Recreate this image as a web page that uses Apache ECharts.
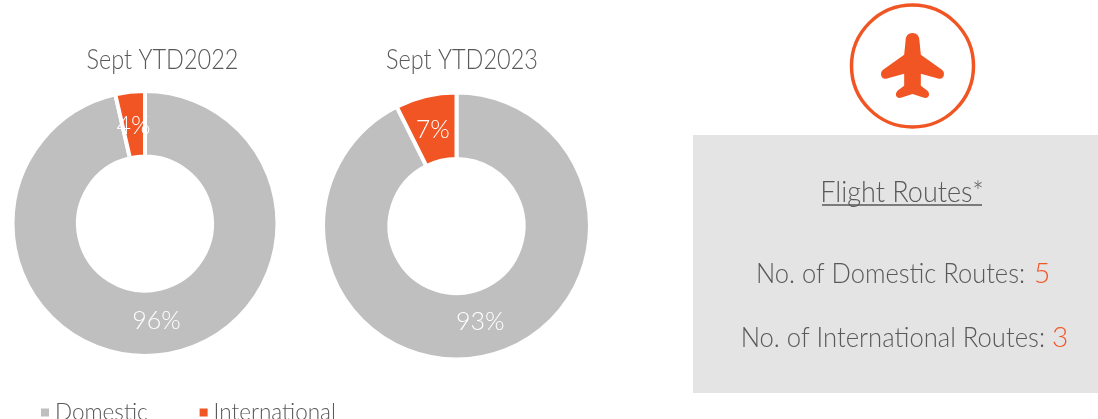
<!DOCTYPE html>
<html><head><meta charset="utf-8">
<style>html,body{margin:0;padding:0;background:#fff}#c{width:1098px;height:419px}</style>
<script src="https://cdn.jsdelivr.net/npm/echarts@6/dist/echarts.min.js"></script>
</head><body><div id="c"></div>
<script>
const categories = ['Domestic', 'International'];
const values2022 = [96.4, 3.6];
const values2023 = [92.6, 7.4];
const titles = ['Sept YTD2022', 'Sept YTD2023'];
const routeTitle = 'Flight Routes*';
const routeLabels = ['No. of Domestic Routes: ', 'No. of International Routes: '];
const routeValues = ['5', '3'];
const GREY = '#bfbfbf', ORANGE = '#f15524', TXT = '#595959';
const FONT = 'Lato';
const planePath = 'M0,-33 C4.500,-33 6.800,-30 7,-26 L8.500,-11 L30,4 C34,7 32,14 27,13 L8.500,8 L8.500,20 L15,25 C19,29 16,34 11,32 L0,28.500 L-11,32 C-16,34 -19,29 -15,25 L-8.500,20 L-8.500,8 L-27,13 C-32,14 -34,7 -30,4 L-8.500,-11 L-7,-26 C-6.800,-30 -4.500,-33 0,-33 Z';

function pie(center, radius, vals, offsets) {
  return {
    type: 'pie', center, radius, startAngle: 90, clockwise: true, silent: true, animation: false,
    itemStyle: { borderColor: '#fff', borderWidth: 4 },
    label: { position: 'inside', formatter: p => Math.round(p.value) + '%', color: '#fff', fontFamily: FONT, fontWeight: 300, fontSize: 25 },
    labelLine: { show: false },
    data: categories.map((n, i) => ({ name: n, value: vals[i], itemStyle: { color: i ? ORANGE : GREY }, label: { offset: offsets[i] } }))
  };
}
function txt(x, y, text, size, color, align, sx) {
  return { type: 'text', x, y, scaleX: sx || 0.87, silent: true, style: { text, fontFamily: FONT, fontWeight: 300, fontSize: size, fill: color || TXT, align: align || 'center', verticalAlign: 'middle' } };
}
const chart = echarts.init(document.getElementById('c'));
chart.setOption({
  animation: false,
  backgroundColor: '#fff',
  legend: { show: true, left: 39, top: 401, itemGap: 50, itemWidth: 10, itemHeight: 10, icon: 'rect', padding: 0,
    data: categories, selectedMode: false,
    textStyle: { fontFamily: FONT, fontWeight: 300, fontSize: 22.500, color: TXT } },
  series: [
    pie([145, 223.500], [67, 132.500], values2022, [[0, -5], [0, 5]]),
    pie([456.500, 226], [67, 133.500], values2023, [[0, -5], [0, 4]]),
    { type: 'custom', coordinateSystem: 'none', silent: true, data: [[0]],
      renderItem: () => ({ type: 'path', silent: true,
        shape: { pathData: planePath, layout: 'cover', x: 881, y: 33, width: 63, height: 65 },
        style: { fill: ORANGE } }) }
  ],
  graphic: [
    txt(162.500, 60, titles[0], 27),
    txt(462, 60, titles[1], 27),
    { type: 'circle', shape: { cx: 912.500, cy: 66, r: 61 }, silent: true, style: { fill: 'none', stroke: ORANGE, lineWidth: 3.500 } },
    { type: 'rect', z: -1, shape: { x: 693, y: 135, width: 405, height: 258 }, silent: true, style: { fill: '#e4e4e4' } },
    txt(902, 192, routeTitle, 30, TXT, 'center', 0.9),
    { type: 'line', shape: { x1: 822, y1: 205, x2: 982, y2: 205 }, silent: true, style: { stroke: TXT, lineWidth: 1.500 } },
    txt(1032, 274, routeLabels[0], 28, TXT, 'right', 0.91),
    txt(1034, 274, routeValues[0], 28, ORANGE, 'left', 1),
    txt(1052, 338, routeLabels[1], 28, TXT, 'right', 0.915),
    txt(1052, 338, routeValues[1], 28, ORANGE, 'left', 1)
  ]
});
</script></body></html>
